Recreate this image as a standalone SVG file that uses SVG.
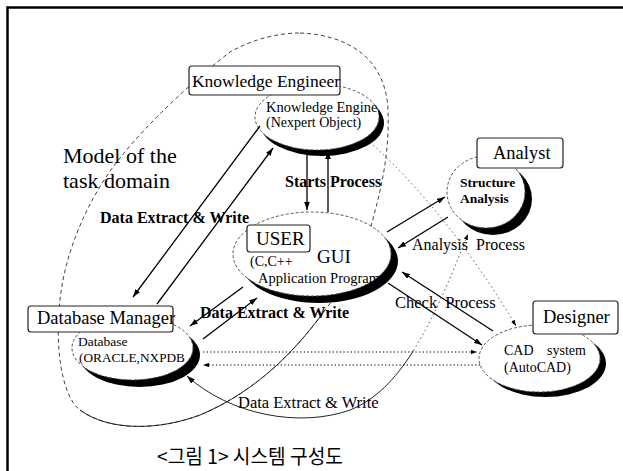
<svg xmlns="http://www.w3.org/2000/svg" width="623" height="471" viewBox="0 0 623 471">
<style>
.box{fill:#fff;stroke:#222;stroke-width:1.2}
.sh{fill:#000}
.el{fill:#fff;stroke:#555;stroke-width:1;stroke-dasharray:3 2}
.t{font-family:"Liberation Serif","Times New Roman",serif;fill:#000}
.b{font-weight:bold}
.ln{fill:none;stroke:#000;stroke-width:1.3}
.dot{fill:none;stroke:#000;stroke-width:1.2;stroke-dasharray:1.3 2.3}
.faint{fill:none;stroke:#555;stroke-width:1;stroke-dasharray:1.5 3}
.dash{fill:none;stroke:#444;stroke-width:1;stroke-dasharray:4 3}
.sol{fill:none;stroke:#222;stroke-width:1}
</style>
<defs>
<marker id="ah" viewBox="0 0 10 7" refX="10" refY="3.5" markerWidth="8" markerHeight="5.6" markerUnits="userSpaceOnUse" orient="auto-start-reverse"><path d="M0,0 L10,3.5 L0,7 z" fill="#000"/></marker>
<marker id="ahs" viewBox="0 0 10 7" refX="10" refY="3.5" markerWidth="6" markerHeight="4.2" markerUnits="userSpaceOnUse" orient="auto-start-reverse"><path d="M0,0 L10,3.5 L0,7 z" fill="#000"/></marker>
</defs>
<rect width="623" height="471" fill="#fff"/>
<path d="M7.5,471 V7.5 H623" fill="none" stroke="#000" stroke-width="2.5"/>

<g id="task-domain">
<path class="dash" d="M300,33 C350,35 386,60 388,110 C390,160 378,200 370,230 C360,262 345,285 325,310 C300,345 260,390 200,415 C160,430 110,432 80,410 C60,395 55,340 60,300 C65,250 90,195 120,158 C150,120 200,75 230,52 C255,38 280,33 300,33 Z"/>
<path class="sol" d="M325,310 C300,345 260,390 200,415 C160,430 110,432 80,410"/>
<text class="t" x="63" y="163" font-size="22">Model of the</text>
<text class="t" x="63" y="188" font-size="22">task domain</text>
</g>

<g id="knowledge-engineer">
<ellipse class="sh" cx="322" cy="123" rx="62" ry="33"/>
<ellipse class="el" cx="317" cy="117" rx="62" ry="33"/>
<rect class="box" x="189" y="66" width="151" height="29" rx="3"/>
<text class="t" x="192" y="87" font-size="17.5" textLength="148" lengthAdjust="spacingAndGlyphs">Knowledge Engineer</text>
<text class="t" x="266" y="112" font-size="14.5">Knowledge Engine</text>
<text class="t" x="266" y="127" font-size="14">(Nexpert Object)</text>
</g>

<g id="user">
<ellipse class="sh" cx="319" cy="261" rx="79" ry="42"/>
<ellipse class="el" cx="312" cy="254" rx="79" ry="42"/>
<rect class="box" x="247" y="225" width="63" height="27" rx="3"/>
<text class="t" x="256" y="245" font-size="19">USER</text>
<text class="t" x="317" y="263" font-size="19">GUI</text>
<text class="t" x="250" y="266" font-size="14">(C,C++</text>
<text class="t" x="258" y="283" font-size="14.5">Application Program</text>
</g>

<g id="analyst">
<ellipse class="sh" cx="493" cy="199" rx="39" ry="36"/>
<ellipse class="el" cx="486" cy="192" rx="39" ry="36"/>
<rect class="box" x="477" y="138" width="86" height="30" rx="3"/>
<text class="t" x="493" y="159" font-size="18.5">Analyst</text>
<text class="t b" x="460" y="187" font-size="13.5">Structure</text>
<text class="t b" x="460" y="203" font-size="13.5">Analysis</text>
</g>

<g id="designer">
<ellipse class="sh" cx="545.5" cy="363.5" rx="60.5" ry="33.5"/>
<ellipse class="el" cx="539.5" cy="358.5" rx="60.5" ry="33.5"/>
<rect class="box" x="533" y="301" width="85" height="33" rx="3"/>
<text class="t" x="543" y="323" font-size="18.5">Designer</text>
<text class="t" x="504" y="355" font-size="14" word-spacing="10">CAD system</text>
<text class="t" x="504" y="372" font-size="14">(AutoCAD)</text>
</g>

<g id="database-manager">
<ellipse class="sh" cx="139.5" cy="355" rx="60.5" ry="32"/>
<ellipse class="el" cx="132.5" cy="348" rx="60.5" ry="32"/>
<rect class="box" x="28" y="306" width="145" height="26" rx="3"/>
<text class="t" x="37" y="324" font-size="18.5">Database Manager</text>
<text class="t" x="78" y="346" font-size="13.5">Database</text>
<text class="t" x="79" y="362" font-size="13.5" textLength="106" lengthAdjust="spacingAndGlyphs">(ORACLE,NXPDB</text>
</g>

<g id="connectors">
<line class="ln" x1="260" y1="126" x2="133" y2="297" marker-end="url(#ah)"/>
<line class="ln" x1="157" y1="304" x2="273" y2="148" marker-end="url(#ah)"/>
<line class="ln" x1="307" y1="150" x2="307" y2="210" marker-end="url(#ah)"/>
<line class="ln" x1="328" y1="212" x2="328" y2="151" marker-end="url(#ah)"/>
<line class="ln" x1="243" y1="287" x2="190" y2="326" marker-end="url(#ah)"/>
<line class="ln" x1="203" y1="339" x2="257" y2="298" marker-end="url(#ah)"/>
<line class="ln" x1="387" y1="232" x2="445" y2="197" marker-end="url(#ah)"/>
<line class="ln" x1="448" y1="217" x2="398" y2="248" marker-end="url(#ah)"/>
<line class="ln" x1="493" y1="331" x2="402" y2="272" marker-end="url(#ah)"/>
<line class="ln" x1="388" y1="283" x2="482" y2="345" marker-end="url(#ah)"/>
<line class="dot" x1="203" y1="352" x2="477" y2="352" marker-end="url(#ahs)"/>
<line class="dot" x1="480" y1="365" x2="203" y2="365" marker-end="url(#ahs)"/>
<path class="faint" d="M370,142 Q450,215 516,326" marker-end="url(#ahs)"/>
<path class="sol" d="M187,376 C230,415 300,428 350,410 C375,400 395,380 413.5,350.5" marker-start="url(#ah)"/>
<path class="faint" d="M413.5,350.5 C432,321 449,282 468,234" marker-end="url(#ahs)"/>
<text class="t b" x="100" y="223" font-size="16">Data Extract &amp; Write</text>
<text class="t b" x="285" y="187" font-size="16">Starts Process</text>
<text class="t b" x="200" y="318" font-size="16">Data Extract &amp; Write</text>
<text class="t" x="412" y="250" font-size="16" word-spacing="4">Analysis Process</text>
<text class="t" x="395" y="308" font-size="16.5" word-spacing="4">Check Process</text>
<text class="t" x="238" y="408" font-size="16.5">Data Extract &amp; Write</text>
</g>

<text x="157" y="464" font-family="'Noto Sans CJK KR', sans-serif" font-size="20" textLength="186" lengthAdjust="spacingAndGlyphs">&lt;그림 1&gt; 시스템 구성도</text>
</svg>
